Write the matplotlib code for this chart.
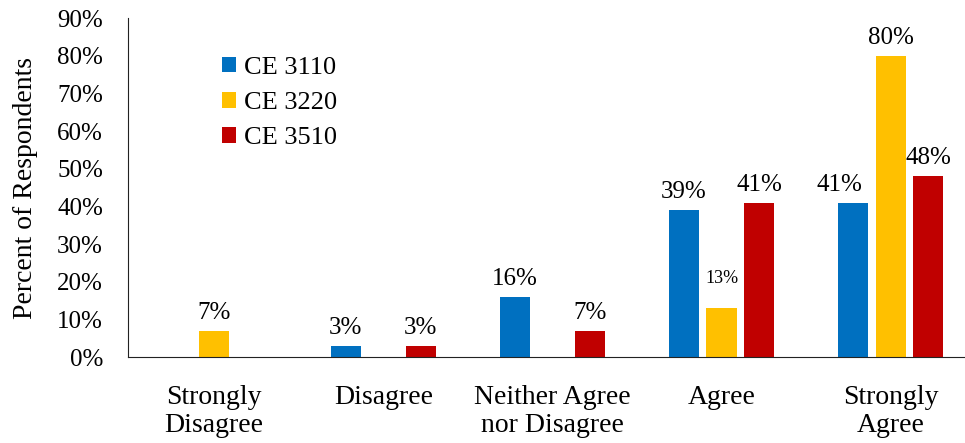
import matplotlib
matplotlib.use("Agg")
import matplotlib.pyplot as plt
import numpy as np

categories = ["Strongly\nDisagree", "Disagree", "Neither Agree\nnor Disagree", "Agree", "Strongly\nAgree"]
series_names = ["CE 3110", "CE 3220", "CE 3510"]
ce3110 = [0, 3, 16, 39, 41]
ce3220 = [7, 0, 0, 13, 80]
ce3510 = [0, 3, 7, 41, 48]
colors = ["#0070C0", "#FFC000", "#C00000"]
yticks = [0, 10, 20, 30, 40, 50, 60, 70, 80, 90]

plt.rcParams['font.family'] = ['Liberation Serif', 'DejaVu Serif']

fig = plt.figure(figsize=(9.65, 4.43), dpi=100)
ax = fig.add_axes([0.1326, 0.194, 0.8674, 0.765])

x = np.arange(len(categories))
width = 0.178
offset = 0.222
for i, (vals, name, c) in enumerate(zip([ce3110, ce3220, ce3510], series_names, colors)):
    pos = x + (i - 1) * offset
    ax.bar(pos, vals, width=width, color=c, label=name)
    for j, (p, v) in enumerate(zip(pos, vals)):
        if v == 0:
            continue
        if i == 1 and j == 3:
            ax.text(p, v + 5.5, f"{v}%", ha='center', va='bottom', fontsize=13)
        else:
            dx = -10 if (i == 0 and j == 4) else 0
            ax.annotate(f"{v}%", (p, v), xytext=(dx, 5), textcoords='offset points',
                        ha='center', va='bottom', fontsize=18)

ax.set_xlim(-0.51, 4.44)
ax.set_ylim(0, 90)
ax.set_yticks(yticks)
ax.set_yticklabels([f"{t}%" for t in yticks], fontsize=18)
ax.set_xticks(x)
ax.set_xticklabels(categories, fontsize=20, linespacing=1.18)
ax.tick_params(axis='both', length=0)
ax.tick_params(axis='x', pad=20)
ax.tick_params(axis='y', pad=18)
for s in ['top', 'right']:
    ax.spines[s].set_visible(False)
ax.spines['left'].set_color('#222222')
ax.spines['bottom'].set_color('#222222')
ax.set_ylabel("Percent of Respondents", fontsize=20, labelpad=14)

ax.legend(loc='upper left', bbox_to_anchor=(222 / 965, 0.872), bbox_transform=fig.transFigure,
          frameon=False, fontsize=19, handlelength=0.53, handleheight=0.53,
          handletextpad=0.3, labelspacing=0.5, borderpad=0, borderaxespad=0)

fig.savefig("out.png", dpi=100)
